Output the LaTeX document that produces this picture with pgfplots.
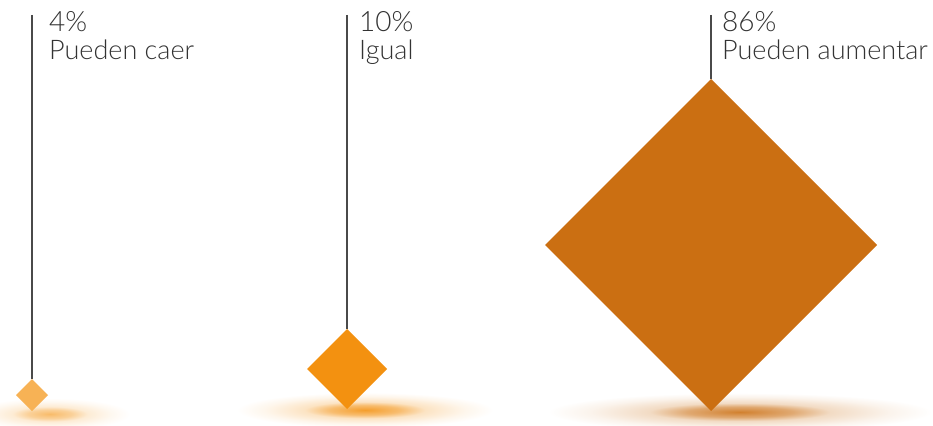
\documentclass[border=0pt]{standalone}
\usepackage{fontspec}
\setmainfont{Lato}[UprightFont={* Light}]
\usepackage{pgfplots}
\pgfplotsset{compat=1.18}
\definecolor{cA}{HTML}{F7B255}
\definecolor{cB}{HTML}{F39110}
\definecolor{cC}{HTML}{CB6F12}
\definecolor{txt}{HTML}{333333}
\definecolor{ln}{HTML}{4A4A4A}
\pgfdeclareradialshading{shA}{\pgfpoint{0bp}{0bp}}{color(0bp)=(cA!88!white); color(5.5bp)=(cA!60!white); color(9.4bp)=(cA!25!white); color(15.6bp)=(cA!8!white); color(20bp)=(white); color(50bp)=(white)}
\pgfdeclareradialshading{shB}{\pgfpoint{0bp}{0bp}}{color(0bp)=(cB!88!white); color(5.5bp)=(cB!60!white); color(9.4bp)=(cB!25!white); color(15.6bp)=(cB!8!white); color(20bp)=(white); color(50bp)=(white)}
\pgfdeclareradialshading{shC}{\pgfpoint{0bp}{0bp}}{color(0bp)=(cC!88!white); color(5.5bp)=(cC!60!white); color(9.4bp)=(cC!25!white); color(15.6bp)=(cC!8!white); color(20bp)=(white); color(50bp)=(white)}
\newcommand{\numfont}{\fontsize{28bp}{33bp}\selectfont}
\newcommand{\labfont}{\fontsize{27bp}{32bp}\selectfont}
\begin{document}
\begin{tikzpicture}
\useasboundingbox (0,0) rectangle (933bp,426bp);
\begin{axis}[
  scale only axis, width=933bp, height=426bp,
  xmin=0, xmax=933, ymin=0, ymax=426, y dir=reverse,
  axis lines=none, ticks=none, clip=false,
]
% shadows
\shade[shading=shA] (axis cs:50,414) ellipse [x radius=100bp, y radius=20bp];
\shade[shading=shB] (axis cs:365,410) ellipse [x radius=160bp, y radius=22bp];
\shade[shading=shC] (axis cs:740,412) ellipse [x radius=240bp, y radius=24bp];
% leader lines
\addplot[ln, line width=1.1bp] coordinates {(32,15) (32,379)};
\addplot[ln, line width=1.1bp] coordinates {(347,15) (347,329)};
\addplot[ln, line width=1.1bp] coordinates {(711,15) (711,79)};
% diamonds
\addplot[fill=cA, draw=none] coordinates {(32,379) (48,395) (32,411) (16,395)} -- cycle;
\addplot[fill=cB, draw=none] coordinates {(347,329) (387,369) (347,409) (307,369)} -- cycle;
\addplot[fill=cC, draw=none] coordinates {(711,79) (877,245) (711,411) (545,245)} -- cycle;
% labels
\node[anchor=base west, text=txt, font=\numfont, inner sep=0pt] at (axis cs:49,32) {4\%};
\node[anchor=base west, text=txt, font=\labfont, inner sep=0pt] at (axis cs:49,60) {Pueden caer};
\node[anchor=base west, text=txt, font=\numfont, inner sep=0pt] at (axis cs:359,32) {10\%};
\node[anchor=base west, text=txt, font=\labfont, inner sep=0pt] at (axis cs:359,60) {Igual};
\node[anchor=base west, text=txt, font=\numfont, inner sep=0pt] at (axis cs:722,32) {86\%};
\node[anchor=base west, text=txt, font=\labfont, inner sep=0pt] at (axis cs:722,60) {Pueden aumentar};
\end{axis}
\end{tikzpicture}
\end{document}
